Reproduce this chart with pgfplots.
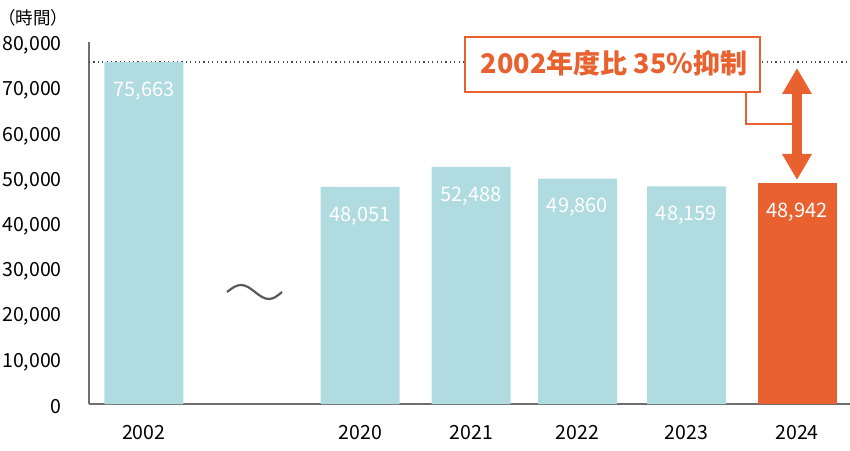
\documentclass[border=0pt]{standalone}
\usepackage{pgfplots}
\pgfplotsset{compat=1.18}
\usepackage{pgfplotstable}
\usepackage{fontspec}
\setmainfont{Noto Sans CJK JP}
\usetikzlibrary{arrows.meta}
\definecolor{barblue}{HTML}{B0DBE0}
\definecolor{barorange}{HTML}{E8612F}
\definecolor{axisgray}{HTML}{6E6E6E}
\pgfplotstableread{
x value
143.8 75663
360.2 48051
471.2 52488
577.5 49860
686.5 48159
}\bluedata
\pgfplotstableread{
x value
797 48942
}\orangedata
\begin{document}
\begin{tikzpicture}
\useasboundingbox (-89pt,-46pt) rectangle (761pt,404pt);
\begin{axis}[
  scale only axis, width=761pt, height=361.6pt,
  xmin=89, xmax=850, ymin=0, ymax=80000,
  axis lines=left, axis line style={-, axisgray, line width=1.6pt},
  major tick length=0pt,
  xtick={143.8,360.2,471.2,577.5,686.5,797},
  xticklabels={2002,2020,2021,2022,2023,2024},
  ytick={0,10000,...,80000},
  scaled y ticks=false,
  /pgf/number format/1000 sep={,},
  /pgf/number format/assume math mode=true,
  tick label style={font=\fontsize{19.5}{22}\selectfont, text=black, inner sep=0pt},
  yticklabel style={xshift=-27pt, yshift=-3pt},
  xticklabel style={yshift=-21pt},
  ybar, bar width=79, bar shift=0pt,
  clip=false,
  nodes near coords,
  nodes near coords style={font=\fontsize{20}{22}\selectfont, text=white, anchor=center, yshift=-29pt},
]
\draw[color=black!70, line width=1.2pt, dash pattern=on 1.2pt off 3.2pt] (axis cs:89,75663) -- (axis cs:850,75663);
\addplot[fill=barblue, draw=none] table[x=x,y=value]{\bluedata};
\addplot[fill=barorange, draw=none] table[x=x,y=value]{\orangedata};
\end{axis}
% y axis unit label
\node[font=\fontsize{17.5}{20}\selectfont, anchor=center, inner sep=0pt] at (-55.5pt,386pt) {（時間）};
% break tilde
\draw[color=black!65, line width=2.2pt] (138pt,112pt) sin (152pt,119pt) cos (166pt,112pt) sin (180pt,105pt) cos (193pt,112pt);
% annotation
\draw[barorange, line width=1.4pt] (657pt,312pt) |- (708pt,280pt);
\node[draw=barorange, line width=1.4pt, fill=white, minimum width=295pt, minimum height=55pt, inner sep=0pt] at (523.5pt,339.5pt) {};
\node[text=barorange, font=\fontsize{27}{30}\selectfont\bfseries, inner sep=0pt] at (525pt,341pt) {2002年度比 35\%抑制};
\draw[barorange, line width=10pt, {Triangle[width=28pt,length=26pt]}-{Triangle[width=28pt,length=26pt]}] (708pt,336pt) -- (708pt,224pt);
\end{tikzpicture}
\end{document}
